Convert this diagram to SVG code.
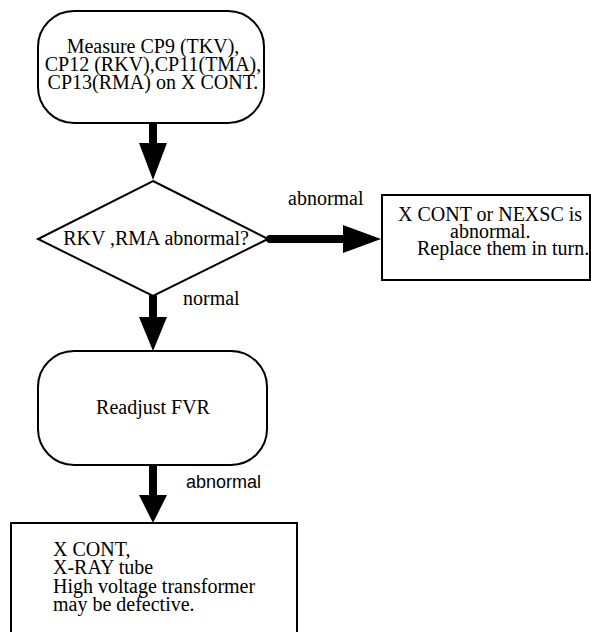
<svg xmlns="http://www.w3.org/2000/svg" width="591" height="632" viewBox="0 0 591 632">
  <style>
    .shape { fill: #ffffff; stroke: #000000; stroke-width: 2; }
    .txt { font-family: "Liberation Serif", "Times New Roman", serif; font-size: 20px; fill: #000000; }
    .mid { text-anchor: middle; }
    .lbl { font-family: "Liberation Serif", "Times New Roman", serif; font-size: 20px; fill: #000000; }
    .lbl-sans { font-family: "Liberation Sans", Arial, sans-serif; font-size: 18px; fill: #000000; }
    .shaft { stroke: #000000; stroke-width: 8; stroke-linecap: round; fill: none; }
    .head { fill: #000000; stroke: none; }
  </style>
  <rect width="591" height="632" fill="#ffffff"/>

  <!-- connectors -->
  <g id="connectors">
    <line class="shaft" x1="153" y1="124" x2="153" y2="146"/>
    <polygon class="head" points="139,143 167,143 153,180"/>

    <line class="shaft" x1="153" y1="297" x2="153" y2="320"/>
    <polygon class="head" points="139,317 167,317 153,351"/>

    <line class="shaft" x1="153" y1="466" x2="153" y2="498"/>
    <polygon class="head" points="139,495 167,495 153,523"/>

    <line class="shaft" x1="270" y1="239" x2="346" y2="239"/>
    <polygon class="head" points="343,225 343,253 381,239"/>

    <text class="lbl" x="288" y="205">abnormal</text>
    <text class="lbl" x="183" y="305">normal</text>
    <text class="lbl-sans" x="186" y="488">abnormal</text>
  </g>

  <!-- start: measurement step -->
  <g id="measure">
    <rect class="shape" x="38" y="11" width="226" height="112" rx="36" ry="36"/>
    <text class="txt mid" x="153" y="53">Measure CP9 (TKV),</text>
    <text class="txt mid" x="153" y="71">CP12 (RKV),CP11(TMA),</text>
    <text class="txt mid" x="153" y="89">CP13(RMA) on X CONT.</text>
  </g>

  <!-- decision -->
  <g id="decision">
    <polygon class="shape" points="153,181 268,239 153,296 38,239"/>
    <text class="txt mid" x="156" y="245">RKV ,RMA abnormal?</text>
  </g>

  <!-- replace controller / NEXSC -->
  <g id="replace">
    <rect class="shape" x="382" y="195" width="208" height="85"/>
    <text class="txt" x="398" y="221">X CONT or NEXSC is</text>
    <text class="txt" x="450" y="238">abnormal.</text>
    <text class="txt" x="417" y="255">Replace them in turn.</text>
  </g>

  <!-- readjust -->
  <g id="readjust">
    <rect class="shape" x="38" y="351" width="229" height="114" rx="36" ry="36"/>
    <text class="txt mid" x="153" y="414">Readjust FVR</text>
  </g>

  <!-- defective parts -->
  <g id="defective">
    <rect class="shape" x="11" y="523" width="286" height="130"/>
    <text class="txt" x="53" y="556">X CONT,</text>
    <text class="txt" x="53" y="574">X-RAY tube</text>
    <text class="txt" x="53" y="593">High voltage transformer</text>
    <text class="txt" x="53" y="611">may be defective.</text>
  </g>
</svg>
